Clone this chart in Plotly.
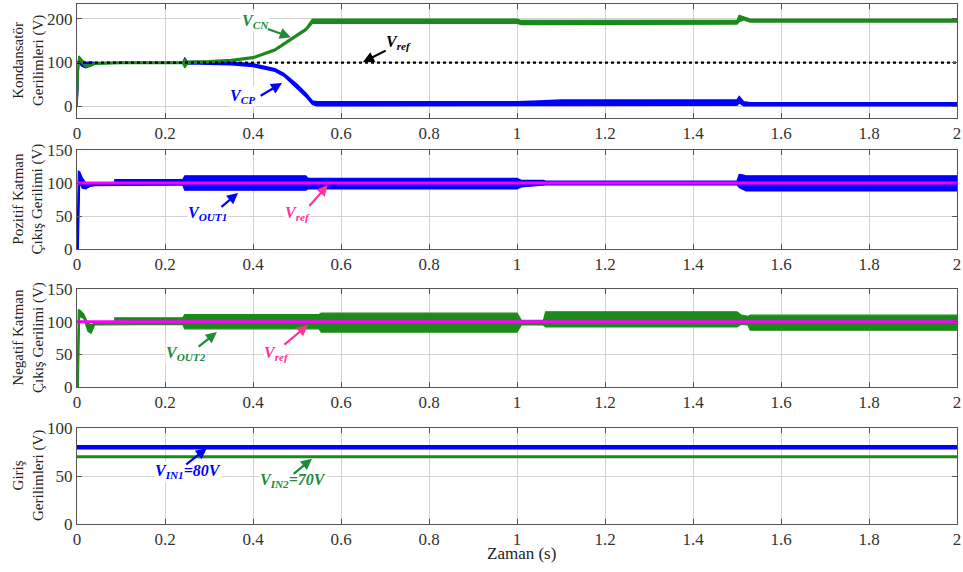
import plotly.graph_objects as go

# ---------------- DATA ----------------
# Panel 1: capacitor voltages (envelope of the rippled signal: hi / lo)
t_vcn  = [0, 0.004, 0.01, 0.02, 0.03, 0.04, 0.1, 0.24, 0.245, 0.25, 0.255, 0.3, 0.35, 0.4, 0.45, 0.5, 0.52, 0.535, 0.6, 1.0, 1.01, 1.5, 1.505, 1.515, 1.53, 1.6, 2.0]
vcn_hi = [0, 115, 108, 95, 95, 99, 101, 101, 108, 102, 103, 104, 107, 113, 131, 164, 178, 199, 199, 199, 196, 196, 208, 205, 199, 199, 199]
vcn_lo = [0, 110, 100, 90, 91, 96, 98, 98, 88, 96, 98, 100, 103, 109, 127, 160, 173, 190, 190, 190, 187, 188, 194, 198, 193, 193, 193]

t_vcp  = [0, 0.004, 0.01, 0.02, 0.03, 0.04, 0.1, 0.24, 0.245, 0.25, 0.3, 0.35, 0.4, 0.45, 0.47, 0.5, 0.52, 0.535, 0.545, 0.6, 1.0, 1.05, 1.1, 1.5, 1.505, 1.515, 1.53, 1.6, 2.0]
vcp_hi = [0, 112, 105, 100, 101, 100, 100, 100, 110, 103, 102, 101, 97, 86, 75, 50, 30, 12, 10, 10, 10, 12, 14, 14, 22, 10, 8, 8, 8]
vcp_lo = [0, 105, 92, 88, 93, 97, 99, 99, 95, 97, 96, 95, 91, 80, 69, 42, 22, 4, 1, 1, 1, 2, 2, 2, 8, 1, 1, 1, 1]

vref_level = 100

# Panel 2: positive layer output voltage VOUT1
t_out1  = [0, 0.003, 0.006, 0.012, 0.02, 0.03, 0.04, 0.085, 0.086, 0.24, 0.245, 0.52, 0.525, 1.0, 1.01, 1.06, 1.065, 1.5, 1.505, 1.515, 1.52, 2.0]
out1_hi = [0, 118, 117, 108, 100, 99, 98, 98, 105, 105, 111, 111, 107, 107, 104, 104, 103, 103, 113, 112, 111, 111]
out1_lo = [0, 0, 100, 92, 91, 95, 96, 96, 97, 97, 89, 89, 91, 91, 94, 96, 97, 97, 93, 90, 88, 88]

# Panel 3: negative layer output voltage VOUT2
t_out2  = [0, 0.003, 0.006, 0.015, 0.025, 0.032, 0.04, 0.085, 0.086, 0.24, 0.245, 0.55, 0.555, 1.0, 1.01, 1.06, 1.065, 1.5, 1.51, 1.525, 1.53, 2.0]
out2_hi = [0, 118, 118, 112, 98, 95, 98, 98, 106, 106, 111, 111, 113, 113, 102, 102, 115, 115, 110, 108, 110, 110]
out2_lo = [0, 0, 108, 105, 85, 82, 95, 95, 96, 96, 89, 89, 84, 84, 95, 95, 92, 92, 96, 95, 87, 87]

# Panel 4: input voltages
t_in = [0, 2]
vin1 = [80, 80]
vin2 = [70, 70]

x_ticks = [0, 0.2, 0.4, 0.6, 0.8, 1.0, 1.2, 1.4, 1.6, 1.8, 2.0]
x_ticklabels = ["0", "0.2", "0.4", "0.6", "0.8", "1", "1.2", "1.4", "1.6", "1.8", "2"]

y_titles = ["Kondansatör<br>Gerilimleri (V)",
            "Pozitif Katman<br>Çıkış Gerilimi (V)",
            "Negatif Katman<br>Çıkış Gerilimi (V)",
            "Giriş<br>Gerilimleri (V)"]

# ---------------- STYLE ----------------
BLUE = "#0000FF"
GREEN = "#1B8A1B"
GREEN_TXT = "#1E8A3C"
MAGENTA = "#FF00FF"
PINK = "#FF3399"
SERIF = "Liberation Serif"
W, H = 963, 572

fig = go.Figure()


def band(t, hi, lo, color, n, w=1.5):
    xa, ya = ("x", "y") if n == 1 else (f"x{n}", f"y{n}")
    fig.add_trace(go.Scatter(x=t, y=hi, mode="lines", line=dict(color=color, width=w),
                             xaxis=xa, yaxis=ya, showlegend=False, hoverinfo="skip"))
    fig.add_trace(go.Scatter(x=t, y=lo, mode="lines", line=dict(color=color, width=w),
                             fill="tonexty", fillcolor=color,
                             xaxis=xa, yaxis=ya, showlegend=False, hoverinfo="skip"))


def line(t, y, color, n, w=2, dash="solid"):
    xa, ya = ("x", "y") if n == 1 else (f"x{n}", f"y{n}")
    fig.add_trace(go.Scatter(x=t, y=y, mode="lines", line=dict(color=color, width=w, dash=dash),
                             xaxis=xa, yaxis=ya, showlegend=False, hoverinfo="skip"))


# Panel 1
band(t_vcp, vcp_hi, vcp_lo, BLUE, 1)
band(t_vcn, vcn_hi, vcn_lo, GREEN, 1)
line([0, 2], [vref_level, vref_level], "black", 1, w=2.2, dash="dot")
# Panel 2
band(t_out1, out1_hi, out1_lo, BLUE, 2, w=1.2)
line([0, 2], [vref_level, vref_level], MAGENTA, 2, w=3)
# Panel 3
band(t_out2, out2_hi, out2_lo, GREEN, 3, w=1.2)
line([0, 2], [vref_level, vref_level], MAGENTA, 3, w=3)
# Panel 4
line(t_in, vin1, BLUE, 4, w=4.5)
line(t_in, vin2, GREEN, 4, w=3)

# panel pixel boxes (top, bottom)
panels = [(4, 118), (150, 249), (289, 387), (428, 524)]
yranges = [[-27, 234], [0, 150], [0, 150], [0, 100]]
yticks = [[0, 100, 200], [0, 50, 100, 150], [0, 50, 100, 150], [0, 50, 100]]

axis_common = dict(showgrid=True, gridcolor="#d2d2d2", gridwidth=1, showline=True, mirror="ticks",
                   linecolor="#555555", linewidth=1, ticks="inside", ticklen=5, tickcolor="#555555",
                   zeroline=False, automargin=False, ticklabeloverflow="allow",
                   tickfont=dict(family=SERIF, size=17, color="#333333"))

layout_axes = {}
for i, ((top, bot), yr, yt) in enumerate(zip(panels, yranges, yticks), start=1):
    sfx = "" if i == 1 else str(i)
    layout_axes[f"xaxis{sfx}"] = dict(domain=[0, 1], anchor=f"y{sfx}", range=[0, 2],
                                      tickvals=x_ticks, ticktext=x_ticklabels, **axis_common)
    layout_axes[f"yaxis{sfx}"] = dict(domain=[1 - bot / H, 1 - top / H], anchor=f"x{sfx}", range=yr,
                                      tickvals=yt, ticktext=[str(v) for v in yt], **axis_common)

annotations = []
# y-axis titles
for (top, bot), title in zip(panels, y_titles):
    annotations.append(dict(xref="paper", yref="paper", x=(28 - 77) / 880, y=1 - (top + bot) / 2 / H,
                            text=title, textangle=-90, showarrow=False, xanchor="center", yanchor="middle",
                            font=dict(family=SERIF, size=15, color="#222222")))
annotations.append(dict(xref="paper", yref="paper", x=(521 - 77) / 880, y=1 - 553 / H, text="Zaman (s)",
                        showarrow=False, xanchor="center", yanchor="middle",
                        font=dict(family=SERIF, size=17, color="#222222")))


def label(n, x, y, text, color):
    sfx = "" if n == 1 else str(n)
    annotations.append(dict(xref=f"x{sfx}", yref=f"y{sfx}", x=x, y=y, text=text, showarrow=False,
                            bgcolor="white", borderpad=0,
                            font=dict(family=SERIF, size=16, color=color)))


def arrow(n, x0, y0, x1, y1, color):
    sfx = "" if n == 1 else str(n)
    annotations.append(dict(xref=f"x{sfx}", yref=f"y{sfx}", axref=f"x{sfx}", ayref=f"y{sfx}",
                            x=x1, y=y1, ax=x0, ay=y0, text="", showarrow=True,
                            arrowhead=2, arrowsize=1, arrowwidth=2.2, arrowcolor=color))


# Panel 1 labels
label(1, 0.405, 193, "<b><i>V<sub>CN</sub></i></b>", GREEN_TXT)
arrow(1, 0.43, 178, 0.486, 158, GREEN_TXT)
label(1, 0.73, 145, "<b><i>V<sub>ref</sub></i></b>", "black")
arrow(1, 0.705, 129, 0.65, 101, "black")
label(1, 0.375, 22, "<b><i>V<sub>CP</sub></i></b>", BLUE)
arrow(1, 0.414, 22, 0.466, 53, BLUE)
# Panel 2 labels
label(2, 0.297, 54, "<b><i>V<sub>OUT1</sub></i></b>", BLUE)
arrow(2, 0.325, 62, 0.366, 85, BLUE)
label(2, 0.502, 54, "<b><i>V<sub>ref</sub></i></b>", PINK)
arrow(2, 0.525, 63, 0.570, 97, PINK)
# Panel 3 labels
label(3, 0.248, 52, "<b><i>V<sub>OUT2</sub></i></b>", GREEN_TXT)
arrow(3, 0.273, 60, 0.318, 84, GREEN_TXT)
label(3, 0.454, 52, "<b><i>V<sub>ref</sub></i></b>", PINK)
arrow(3, 0.468, 63, 0.525, 95, PINK)
# Panel 4 labels
label(4, 0.253, 55, "<b><i>V<sub>IN1</sub>=80V</i></b>", BLUE)
arrow(4, 0.245, 61, 0.295, 79, BLUE)
label(4, 0.491, 45, "<b><i>V<sub>IN2</sub>=70V</i></b>", GREEN_TXT)
arrow(4, 0.489, 51, 0.534, 68, GREEN_TXT)

fig.update_layout(width=W, height=H, margin=dict(l=77, r=6, t=0, b=0),
                  plot_bgcolor="white", paper_bgcolor="white", showlegend=False,
                  font=dict(family=SERIF, color="#222222"),
                  annotations=annotations, **layout_axes)

fig.write_html("out.html", config={"displayModeBar": False, "staticPlot": True},
               post_script="document.body.style.margin='0';document.body.style.overflow='hidden';")
